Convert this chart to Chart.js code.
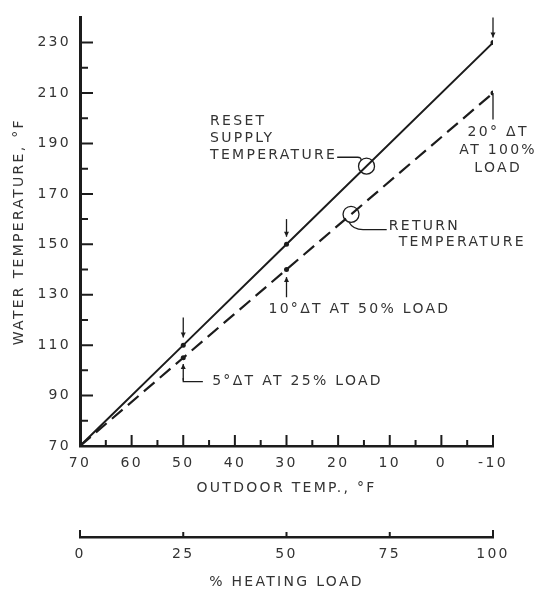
<!DOCTYPE html>
<html>
<head>
<meta charset="utf-8">
<script src="https://cdn.jsdelivr.net/npm/chart.js@4"></script>
<style>
  html, body { margin: 0; padding: 0; background: #fff; }
  #wrap { width: 536px; height: 596px; }
</style>
</head>
<body>
<div id="wrap"><canvas id="chart" width="536" height="596"></canvas></div>
<script>
// outdoor temp (°F) at the marked points, with supply / return water temps
const outdoorTemp = [70, 50, 30, -10];
const supplyTemp = [70, 110, 150, 230];
const returnTemp = [70, 105, 140, 210];
const pointSizes = [0, 2.5, 2.5, 2.5];

const yTickLabels = [70, 90, 110, 130, 150, 170, 190, 210, 230];
const xTickLabels = [70, 60, 50, 40, 30, 20, 10, 0, -10];
const loadTicks = [0, 25, 50, 75, 100];

// callouts, in chart values
const arrows = [
  { x: 50, from: 121, to: 113 },
  { x: 50, from: 96, to: 102.5 },
  { x: 30, from: 160, to: 153 },
  { x: 30, from: 129, to: 137 },
  { x: -10, from: 240, to: 232 },
];
const circles = [
  { x: 14.5, y: 181 },
  { x: 17.5, y: 161.9 },
];
const supplyLabel = { x: 44.8, y: 198.8, lines: ['RESET', 'SUPPLY', 'TEMPERATURE'] };
const returnLabel = { x: 10.2, y: 157, lines: ['RETURN', 'TEMPERATURE'] };
const notes = [
  { x: 33.5, y: 124.2, text: '10°ΔT AT 50% LOAD' },
  { x: 44.4, y: 95.5, text: '5°ΔT AT 25% LOAD' },
];
const fullLoadNote = { x: -11, y: 194.5, lines: ['20° ΔT', 'AT 100%', 'LOAD'] };

const INK = '#1c1c1c';
const TEXT = '#333';
const FAMILY = '"DejaVu Sans", Arial, sans-serif';
const SIZE = 14;
const SPACING = '2.3px';

function pts(ys) {
  return outdoorTemp.map((t, i) => ({ x: t, y: ys[i] }));
}

const spacingPlugin = {
  id: 'spacing',
  beforeLayout(chart) { chart.ctx.letterSpacing = SPACING; },
  beforeDraw(chart) {
    const ctx = chart.ctx;
    ctx.letterSpacing = SPACING;
    ctx.save();
    ctx.fillStyle = '#fff';
    ctx.fillRect(0, 0, chart.width, chart.height);
    ctx.restore();
  },
};

function arrowHead(ctx, px, py, dir) {
  ctx.beginPath();
  ctx.moveTo(px, py);
  ctx.lineTo(px - 2.5, py - dir * 5);
  ctx.lineTo(px + 2.5, py - dir * 5);
  ctx.closePath();
  ctx.fill();
}

const markup = {
  id: 'markup',
  afterDatasetsDraw(chart) {
    const { ctx, scales: { x, y, x2 } } = chart;
    const X = v => x.getPixelForValue(v);
    const Y = v => y.getPixelForValue(v);
    ctx.save();
    ctx.letterSpacing = SPACING;
    ctx.strokeStyle = INK;
    ctx.fillStyle = INK;
    ctx.lineWidth = 2;

    // tick marks point into the plot
    ctx.beginPath();
    for (let v = 80; v <= 230; v += 10) {
      const len = yTickLabels.includes(v) ? 13 : 8;
      ctx.moveTo(x.left, Y(v));
      ctx.lineTo(x.left + len, Y(v));
    }
    for (let v = 65; v >= -10; v -= 5) {
      const len = v % 10 === 0 ? 11 : 6;
      ctx.moveTo(X(v), y.bottom);
      ctx.lineTo(X(v), y.bottom - len);
    }
    loadTicks.forEach((v, i) => {
      const len = (i === 0 || i === loadTicks.length - 1) ? 7 : 5;
      const px = x2.getPixelForValue(v);
      ctx.moveTo(px, x2.top);
      ctx.lineTo(px, x2.top - len);
    });
    ctx.stroke();

    // arrows
    ctx.lineWidth = 1.3;
    arrows.forEach(a => {
      const dir = a.to < a.from ? 1 : -1; // 1 = pointing down on screen
      ctx.beginPath();
      ctx.moveTo(X(a.x), Y(a.from));
      ctx.lineTo(X(a.x), Y(a.to));
      ctx.stroke();
      arrowHead(ctx, X(a.x), Y(a.to), dir);
    });

    // 20°ΔT stem, 5°ΔT bracket
    ctx.beginPath();
    ctx.moveTo(X(-10), Y(210));
    ctx.lineTo(X(-10), Y(199.5));
    ctx.moveTo(X(50), Y(97));
    ctx.lineTo(X(50), Y(95.5));
    ctx.lineTo(X(46.2), Y(95.5));
    ctx.stroke();

    // circles on the lines
    circles.forEach(c => {
      ctx.beginPath();
      ctx.arc(X(c.x), Y(c.y), 8, 0, Math.PI * 2);
      ctx.stroke();
    });

    ctx.font = SIZE + 'px ' + FAMILY;
    ctx.fillStyle = TEXT;
    ctx.textBaseline = 'middle';
    ctx.textAlign = 'left';

    supplyLabel.lines.forEach((t, i) => {
      ctx.fillText(t, X(supplyLabel.x), Y(supplyLabel.y) + i * 17);
    });
    // leader from supply label to its circle
    const lastY = Y(supplyLabel.y) + 34;
    const endX = X(supplyLabel.x) + ctx.measureText('TEMPERATURE').width;
    const sc = circles[0];
    ctx.beginPath();
    ctx.moveTo(endX, lastY + 2);
    ctx.lineTo(X(sc.x) - 9, lastY + 2);
    ctx.quadraticCurveTo(X(sc.x) - 5, lastY + 2, X(sc.x) - 5.5, Y(sc.y) - 6);
    ctx.stroke();

    const rx = X(returnLabel.x), ry = Y(returnLabel.y);
    ctx.fillText(returnLabel.lines[0], rx, ry);
    ctx.fillText(returnLabel.lines[1], rx + 10, ry + 16);
    const rc = circles[1];
    ctx.beginPath();
    ctx.moveTo(X(rc.x) - 2, Y(rc.y) + 8);
    ctx.quadraticCurveTo(X(rc.x) + 2, ry + 3, X(rc.x) + 12, ry + 3);
    ctx.lineTo(rx - 2, ry + 3);
    ctx.stroke();

    notes.forEach(n => ctx.fillText(n.text, X(n.x), Y(n.y)));

    ctx.textAlign = 'center';
    fullLoadNote.lines.forEach((t, i) => {
      ctx.fillText(t, X(fullLoadNote.x), Y(fullLoadNote.y) + i * 18);
    });
    ctx.restore();
  },
};

const tickFont = { family: FAMILY, size: SIZE };
const titleFont = { family: FAMILY, size: SIZE };

new Chart(document.getElementById('chart'), {
  type: 'scatter',
  data: {
    datasets: [
      {
        label: 'Reset supply temperature',
        data: pts(supplyTemp),
        showLine: true,
        borderColor: INK,
        borderWidth: 2,
        pointRadius: pointSizes,
        pointBackgroundColor: INK,
        pointBorderWidth: 0,
      },
      {
        label: 'Return temperature',
        data: pts(returnTemp),
        showLine: true,
        borderColor: INK,
        borderWidth: 2.2,
        borderDash: [14, 7],
        pointRadius: pointSizes,
        pointBackgroundColor: INK,
        pointBorderWidth: 0,
      },
    ],
  },
  options: {
    responsive: false,
    animation: false,
    devicePixelRatio: 1,
    layout: { padding: { left: 0, right: 43, top: 10, bottom: 0 } },
    plugins: { legend: { display: false }, tooltip: { enabled: false } },
    scales: {
      y: {
        type: 'linear',
        position: 'left',
        min: 70,
        max: 240,
        afterFit: s => { s.width = 80; },
        border: { display: true, color: INK, width: 3 },
        grid: { display: false, drawTicks: false },
        ticks: {
          stepSize: 10,
          autoSkip: false,
          padding: 9,
          color: TEXT,
          font: tickFont,
          callback: v => yTickLabels.includes(v) ? String(v) : '',
        },
        title: {
          display: true,
          text: 'WATER TEMPERATURE, °F',
          color: TEXT,
          font: titleFont,
          padding: { top: 11, bottom: 0 },
        },
      },
      x: {
        type: 'linear',
        position: 'bottom',
        weight: 0,
        min: -10,
        max: 70,
        reverse: true,
        afterFit: s => { s.height = 91; },
        border: { display: true, color: INK, width: 2.5 },
        grid: { display: false, drawTicks: false },
        ticks: {
          stepSize: 10,
          autoSkip: false,
          maxRotation: 0,
          padding: 9,
          color: TEXT,
          font: tickFont,
          callback: v => xTickLabels.includes(v) ? String(v) : '',
        },
        title: {
          display: true,
          text: 'OUTDOOR TEMP., °F',
          color: TEXT,
          font: titleFont,
          padding: { top: 0, bottom: 40 },
        },
      },
      x2: {
        type: 'linear',
        position: 'bottom',
        weight: 1,
        min: 0,
        max: 100,
        afterFit: s => { s.height = 59; },
        border: { display: true, color: INK, width: 2.5 },
        grid: { display: false, drawTicks: false },
        ticks: {
          stepSize: 25,
          autoSkip: false,
          maxRotation: 0,
          padding: 9,
          color: TEXT,
          font: tickFont,
        },
        title: {
          display: true,
          text: '% HEATING LOAD',
          color: TEXT,
          font: titleFont,
          padding: { top: 0, bottom: 5 },
        },
      },
    },
  },
  plugins: [spacingPlugin, markup],
});
</script>
</body>
</html>
